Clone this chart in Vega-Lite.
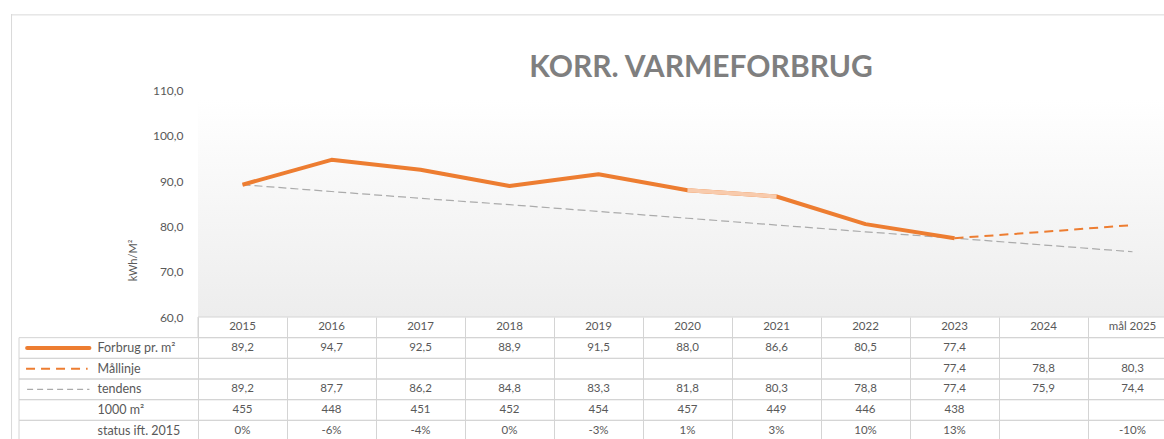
{
  "$schema": "https://vega.github.io/schema/vega-lite/v6.json",
  "padding": {"left": 10, "top": 13, "right": 0, "bottom": 0},
  "background": "white",
  "config": {"view": {"stroke": null}, "font": "Lato", "axis": {"labelFont": "Lato", "titleFont": "Lato"}},
  "datasets": {
    "tbl": [
      {"i": 0, "cat": "2015", "forbrug": 89.2, "maal": null, "tendens": 89.2, "areal": 455, "status": 0},
      {"i": 1, "cat": "2016", "forbrug": 94.7, "maal": null, "tendens": 87.7, "areal": 448, "status": -6},
      {"i": 2, "cat": "2017", "forbrug": 92.5, "maal": null, "tendens": 86.2, "areal": 451, "status": -4},
      {"i": 3, "cat": "2018", "forbrug": 88.9, "maal": null, "tendens": 84.8, "areal": 452, "status": 0},
      {"i": 4, "cat": "2019", "forbrug": 91.5, "maal": null, "tendens": 83.3, "areal": 454, "status": -3},
      {"i": 5, "cat": "2020", "forbrug": 88.0, "maal": null, "tendens": 81.8, "areal": 457, "status": 1},
      {"i": 6, "cat": "2021", "forbrug": 86.6, "maal": null, "tendens": 80.3, "areal": 449, "status": 3},
      {"i": 7, "cat": "2022", "forbrug": 80.5, "maal": null, "tendens": 78.8, "areal": 446, "status": 10},
      {"i": 8, "cat": "2023", "forbrug": 77.4, "maal": 77.4, "tendens": 77.4, "areal": 438, "status": 13},
      {"i": 9, "cat": "2024", "forbrug": null, "maal": 78.8, "tendens": 75.9, "areal": null, "status": null},
      {"i": 10, "cat": "mål 2025", "forbrug": null, "maal": 80.3, "tendens": 74.4, "areal": null, "status": -10}
    ],
    "rows": [
      {"row": "Forbrug pr. m²"}, {"row": "Mållinje"}, {"row": "tendens"}, {"row": "1000 m²"}, {"row": "status ift. 2015"}
    ]
  },
  "spacing": 0,
  "bounds": "flush",
  "resolve": {"scale": {"y": "independent"}},
  "vconcat": [
    {
      "width": 1154,
      "height": 303,
      "title": {"text": "KORR. VARMEFORBRUG", "anchor": "middle", "offset": -84, "baseline": "middle", "dx": 113, "fontSize": 30, "fontWeight": "bold", "color": "#7f7f7f", "font": "Lato"},
      "layer": [
        {
          "data": {"values": [{"a": 1}]},
          "mark": {"type": "rect", "fill": {"gradient": "linear", "x1": 0, "y1": 0, "x2": 0, "y2": 1, "stops": [{"offset": 0, "color": "#ffffff"}, {"offset": 1, "color": "#ededed"}]}},
          "encoding": {
            "x": {"datum": -0.5, "type": "quantitative", "scale": {"domain": [-2.601, 10.365], "nice": false, "zero": false}, "axis": null},
            "x2": {"datum": 10.365},
            "y": {"datum": 60, "type": "quantitative", "scale": {"domain": [60, 126.89], "nice": false, "zero": false}, "axis": {"values": [60, 70, 80, 90, 100, 110], "labelExpr": "replace(format(datum.value,'.1f'),'.',',')", "offset": -187, "labelPadding": 15, "ticks": false, "domain": false, "grid": false, "labelColor": "#595959", "labelFontSize": 12, "title": "kWh/M²", "titleX": -65, "titleY": 246, "titleBaseline": "middle", "titleColor": "#595959", "titleFontSize": 11, "titleFontWeight": "normal"}},
            "y2": {"datum": 108}
          }
        },
        {
          "data": {"values": [{"a": 1}]},
          "mark": {"type": "rule", "color": "#d9d9d9", "strokeWidth": 1},
          "encoding": {"y": {"datum": 126.7, "type": "quantitative"}}
        },
        {
          "data": {"values": [{"a": 1}]},
          "mark": {"type": "rule", "color": "#d9d9d9", "strokeWidth": 1},
          "encoding": {"x": {"datum": -2.595, "type": "quantitative"}}
        },
        {
          "data": {"name": "tbl"},
          "mark": {"type": "line", "color": "#ababab", "strokeWidth": 1.2, "strokeDash": [8, 4]},
          "encoding": {
            "x": {"field": "i", "type": "quantitative"},
            "y": {"field": "tendens", "type": "quantitative"}
          }
        },
        {
          "data": {"name": "tbl"},
          "transform": [{"filter": "isValid(datum.maal)"}],
          "mark": {"type": "line", "color": "#ed7d31", "strokeWidth": 2, "strokeDash": [9, 6]},
          "encoding": {
            "x": {"field": "i", "type": "quantitative"},
            "y": {"field": "maal", "type": "quantitative"}
          }
        },
        {
          "data": {"name": "tbl"},
          "transform": [{"filter": "isValid(datum.forbrug)"}],
          "mark": {"type": "line", "color": "#ed7d31", "strokeWidth": 4, "strokeJoin": "round"},
          "encoding": {
            "x": {"field": "i", "type": "quantitative"},
            "y": {"field": "forbrug", "type": "quantitative"}
          }
        },
        {
          "data": {"name": "tbl"},
          "transform": [{"filter": "datum.i >= 5 && datum.i <= 6"}],
          "mark": {"type": "line", "color": "#f8cbad", "strokeWidth": 4},
          "encoding": {
            "x": {"field": "i", "type": "quantitative"},
            "y": {"field": "forbrug", "type": "quantitative"}
          }
        }
      ]
    },
    {
      "width": 1154,
      "height": 124,
      "layer": [
        {
          "data": {"name": "rows"},
          "mark": {"type": "rect", "filled": false, "stroke": "#d4d4d4", "strokeWidth": 1},
          "encoding": {
            "x": {"datum": -2.511, "type": "quantitative", "scale": {"domain": [-2.601, 10.365], "nice": false, "zero": false}, "axis": {"values": [-0.5, 0.5, 1.5, 2.5, 3.5, 4.5, 5.5, 6.5, 7.5, 8.5, 9.5], "grid": true, "gridColor": "#d4d4d4", "labels": false, "ticks": false, "domain": false, "title": null}},
            "x2": {"datum": 10.36},
            "y": {"field": "row", "type": "nominal", "scale": {"domain": ["år", "Forbrug pr. m²", "Mållinje", "tendens", "1000 m²", "status ift. 2015"], "paddingInner": 0, "paddingOuter": 0}, "axis": {"labelExpr": "datum.value == 'år' ? '' : datum.value", "offset": -86, "labelAlign": "left", "labelPadding": 0, "tickSize": 0, "ticks": false, "domain": false, "grid": false, "title": null, "labelColor": "#595959", "labelFontSize": 12.5}}
          }
        },
        {
          "data": {"values": [{"row": "år"}]},
          "mark": {"type": "rect", "filled": false, "stroke": "#d4d4d4", "strokeWidth": 1},
          "encoding": {
            "x": {"datum": -0.5, "type": "quantitative"},
            "x2": {"datum": 10.36},
            "y": {"field": "row", "type": "nominal"}
          }
        },
        {
          "data": {"values": [{"a": 1}]},
          "mark": {"type": "rule", "color": "#d9d9d9", "strokeWidth": 1},
          "encoding": {"x": {"datum": -2.595, "type": "quantitative"}}
        },
        {
          "data": {"values": [{"row": "Forbrug pr. m²"}]},
          "mark": {"type": "rule", "color": "#ed7d31", "strokeWidth": 4, "strokeCap": "round"},
          "encoding": {
            "x": {"datum": -2.42, "type": "quantitative"},
            "x2": {"datum": -1.72},
            "y": {"field": "row", "type": "nominal"}
          }
        },
        {
          "data": {"values": [{"row": "Mållinje"}]},
          "mark": {"type": "rule", "color": "#ed7d31", "strokeWidth": 2, "strokeDash": [9, 6]},
          "encoding": {
            "x": {"datum": -2.432, "type": "quantitative"},
            "x2": {"datum": -1.74},
            "y": {"field": "row", "type": "nominal"}
          }
        },
        {
          "data": {"values": [{"row": "tendens"}]},
          "mark": {"type": "rule", "color": "#ababab", "strokeWidth": 1.2, "strokeDash": [6, 4]},
          "encoding": {
            "x": {"datum": -2.42, "type": "quantitative"},
            "x2": {"datum": -1.72},
            "y": {"field": "row", "type": "nominal"}
          }
        },
        {
          "data": {"name": "tbl"},
          "transform": [
            {"fold": ["forbrug", "maal", "tendens", "areal", "status"], "as": ["key", "v"]},
            {"filter": "isValid(datum.v)"},
            {"calculate": "datum.key == 'forbrug' ? 'Forbrug pr. m²' : datum.key == 'maal' ? 'Mållinje' : datum.key == 'tendens' ? 'tendens' : datum.key == 'areal' ? '1000 m²' : 'status ift. 2015'", "as": "row"},
            {"calculate": "datum.key == 'areal' ? '' + datum.v : datum.key == 'status' ? datum.v + '%' : replace(format(datum.v, '.1f'), '.', ',')", "as": "txt"}
          ],
          "mark": {"type": "text", "color": "#595959", "fontSize": 11.5, "align": "center", "baseline": "middle"},
          "encoding": {
            "x": {"field": "i", "type": "quantitative"},
            "y": {"field": "row", "type": "nominal"},
            "text": {"field": "txt"}
          }
        },
        {
          "data": {"name": "tbl"},
          "transform": [{"calculate": "'år'", "as": "row"}],
          "mark": {"type": "text", "color": "#595959", "fontSize": 11.5, "align": "center", "baseline": "middle"},
          "encoding": {
            "x": {"field": "i", "type": "quantitative"},
            "y": {"field": "row", "type": "nominal"},
            "text": {"field": "cat"}
          }
        }
      ]
    }
  ]
}
